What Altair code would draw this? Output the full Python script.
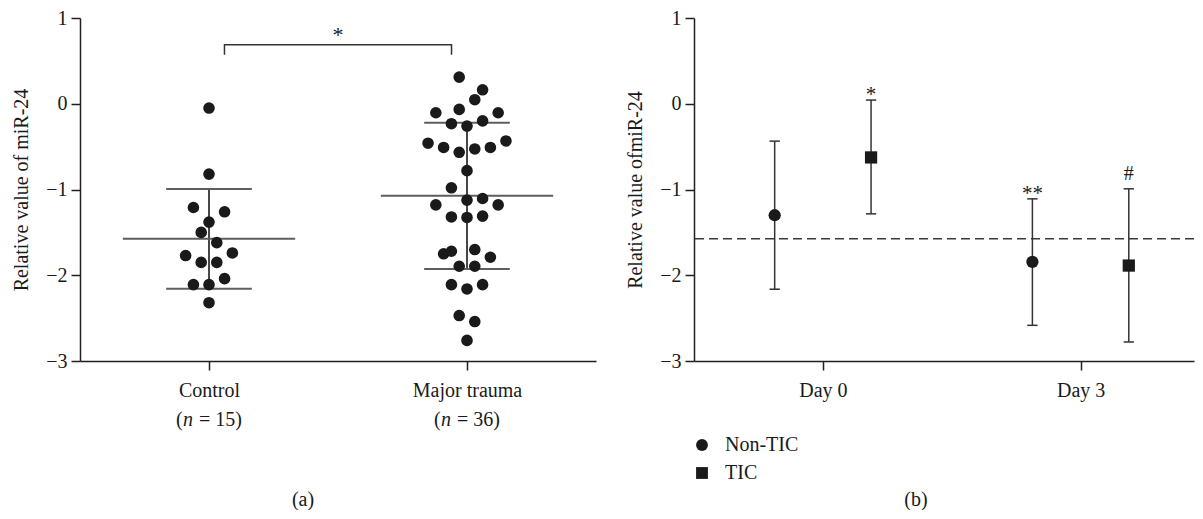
import altair as alt
import pandas as pd
import numpy as np

FONT = "Liberation Serif"
FS = 20
INK = "#1a1a1a"
GREY = "#5e5e5e"

# ---------------- Panel (a): individual values ----------------
control_values = [-0.05, -0.82, -1.21, -1.26, -1.38, -1.50, -1.62, -1.77, -1.74,
                  -1.85, -1.85, -2.04, -2.11, -2.11, -2.32]
control_slots = [0, 0, -2, 2, 0, -1, 1, -3, 3, -1, 1, 2, -2, 0, 0]

trauma_values = [0.31, 0.163, 0.047, -0.105, -0.066, -0.105, -0.233, -0.26, -0.20,
                 -0.46, -0.51, -0.566, -0.527, -0.51, -0.434, -0.78, -0.98, -1.18,
                 -1.124, -1.105, -1.18, -1.32, -1.326, -1.31, -1.75, -1.72, -1.70,
                 -1.79, -1.895, -1.895, -2.11, -2.16, -2.11, -2.47, -2.54, -2.76]
trauma_slots = [-1, 2, 1, -4, -1, 4, -2, 0, 2, -5, -3, -1, 1, 3, 5, 0, -2, -4,
                0, 2, 4, -2, 0, 2, -3, -2, 1, 3, -1, 1, -2, 0, 2, -1, 1, 0]

groups_a = ["Control", "Major trauma"]
group_pos_a = [1, 2]
n_labels = ["15", "36"]

# ---------------- Panel (b): mean and range ----------------
days = ["Day 0", "Day 0", "Day 3", "Day 3"]
day_pos = [1, 1, 2, 2]
cohort = ["Non-TIC", "TIC", "Non-TIC", "TIC"]
mean_b = [-1.30, -0.626, -1.844, -1.887]
upper_b = [-0.436, 0.043, -1.109, -0.992]
lower_b = [-2.163, -1.284, -2.584, -2.778]
marks_b = ["", "*", "**", "#"]

SLOT = 0.0302        # swarm step (in x units)
MEAN_HALF = 0.334    # half length of mean line
SD_HALF = 0.166      # half length of SD caps
COHORT_SHIFT = 0.187
CAP_B = 0.02

pts = pd.DataFrame({
    "group": ["Control"] * len(control_values) + ["Major trauma"] * len(trauma_values),
    "gpos": [1] * len(control_values) + [2] * len(trauma_values),
    "slot": control_slots + trauma_slots,
    "value": control_values + trauma_values,
})

xa_scale = alt.Scale(domain=[0.5, 2.5], nice=False, zero=False)
ya_scale = alt.Scale(domain=[-3, 1], nice=False, zero=False)
xa = alt.X("x:Q", scale=xa_scale,
           axis=alt.Axis(values=group_pos_a, title=None, grid=False,
                         labelExpr="datum.value == 1 ? 'Control' : 'Major trauma'",
                         tickSize=9, labelPadding=10, labelFontSize=FS))
ya = alt.Y("value:Q", scale=ya_scale,
           axis=alt.Axis(values=[-3, -2, -1, 0, 1], format="d",
                         title="Relative value of miR-24",
                         grid=False, tickSize=9, labelPadding=4, titlePadding=14,
                         labelFontSize=FS, titleFontSize=FS, titleFontWeight="normal"))

base_a = alt.Chart(pts)

points_a = base_a.transform_calculate(x=f"datum.gpos + datum.slot * {SLOT}").mark_circle(
    size=135, color=INK, opacity=1).encode(x=xa, y=ya)

stats = base_a.transform_aggregate(
    m="mean(value)", s="stdev(value)", groupby=["gpos"]
).transform_calculate(
    lo="datum.m - datum.s", hi="datum.m + datum.s",
    x="datum.gpos",
    mx1=f"datum.gpos - {MEAN_HALF}", mx2=f"datum.gpos + {MEAN_HALF}",
    sx1=f"datum.gpos - {SD_HALF}", sx2=f"datum.gpos + {SD_HALF}",
)

sd_line = stats.mark_rule(color=INK, strokeWidth=1.6).encode(
    x=alt.X("x:Q", scale=xa_scale), y=alt.Y("lo:Q", scale=ya_scale), y2="hi:Q")
mean_line = stats.mark_rule(color=GREY, strokeWidth=2).encode(
    x=alt.X("mx1:Q"), x2="mx2:Q", y=alt.Y("m:Q"))
cap_hi = stats.mark_rule(color=GREY, strokeWidth=2).encode(
    x=alt.X("sx1:Q"), x2="sx2:Q", y=alt.Y("hi:Q"))
cap_lo = stats.mark_rule(color=GREY, strokeWidth=2).encode(
    x=alt.X("sx1:Q"), x2="sx2:Q", y=alt.Y("lo:Q"))

BR_Y = 0.689
BR_DROP = 0.117
BR_INSET = 0.06
bracket = pd.DataFrame({
    "x": [1 + BR_INSET, 1 + BR_INSET, 2 - BR_INSET, 2 - BR_INSET],
    "value": [BR_Y - BR_DROP, BR_Y, BR_Y, BR_Y - BR_DROP],
    "o": [0, 1, 2, 3],
})
bracket_line = alt.Chart(bracket).mark_line(color="#333333", strokeWidth=1.5).encode(
    x="x:Q", y="value:Q", order="o:Q")
star_a = alt.Chart(pd.DataFrame({"x": [1.5], "value": [BR_Y], "t": ["*"]})).mark_text(
    font=FONT, fontSize=22, color=INK, baseline="alphabetic", dy=-3).encode(
    x="x:Q", y="value:Q", text="t:N")

nl = pd.DataFrame({"x": group_pos_a, "n": n_labels})
nl["rest"] = "= " + nl["n"] + ")"
n_open = alt.Chart(nl).mark_text(font=FONT, fontSize=FS, color=INK, align="left",
                                 baseline="middle", dx=-33).encode(
    x="x:Q", y=alt.value(402), text=alt.value("("))
n_ital = alt.Chart(nl).mark_text(font=FONT, fontSize=FS, color=INK, align="left",
                                 baseline="middle", dx=-26, fontStyle="italic").encode(
    x="x:Q", y=alt.value(402), text=alt.value("n"))
n_rest = alt.Chart(nl).mark_text(font=FONT, fontSize=FS, color=INK, align="left",
                                 baseline="middle", dx=-10).encode(
    x="x:Q", y=alt.value(402), text="rest:N")

tag_a = alt.Chart(pd.DataFrame({"t": ["(a)"]})).mark_text(
    font=FONT, fontSize=FS, color=INK, baseline="middle").encode(
    x=alt.value(223), y=alt.value(482), text="t:N")

panel_a = alt.layer(sd_line, mean_line, cap_hi, cap_lo, points_a, bracket_line, star_a,
                    n_open, n_ital, n_rest, tag_a).properties(width=516, height=343)

# ---------------- Panel (b) ----------------
dfb = pd.DataFrame({"day": days, "dpos": day_pos, "cohort": cohort, "mean": mean_b,
                    "upper": upper_b, "lower": lower_b, "mark": marks_b})
control_mean = float(np.mean(control_values))

xb_scale = alt.Scale(domain=[0.5, 2.44], nice=False, zero=False)
xb = alt.X("x:Q", scale=xb_scale,
           axis=alt.Axis(values=[1, 2], title=None, grid=False,
                         labelExpr="datum.value == 1 ? 'Day 0' : 'Day 3'",
                         tickSize=9, labelPadding=10, labelFontSize=FS))
yb_scale = alt.Scale(domain=[-3, 1], nice=False, zero=False)
yb = alt.Y("mean:Q", scale=yb_scale,
           axis=alt.Axis(values=[-3, -2, -1, 0, 1], format="d",
                         title="Relative value ofmiR-24",
                         grid=False, tickSize=9, labelPadding=4, titlePadding=14,
                         labelFontSize=FS, titleFontSize=FS, titleFontWeight="normal"))

base_b = alt.Chart(dfb).transform_calculate(
    x=f"datum.dpos + (datum.cohort == 'TIC' ? {COHORT_SHIFT} : -{COHORT_SHIFT})"
).transform_calculate(
    c1=f"datum.x - {CAP_B}", c2=f"datum.x + {CAP_B}")

ref_line = alt.Chart(pd.DataFrame({"v": [control_mean]})).mark_rule(
    color="#3a3a3a", strokeWidth=1.5, strokeDash=[9, 5]).encode(
    y=alt.Y("v:Q", scale=yb_scale))

bars_b = base_b.mark_rule(color="#333333", strokeWidth=1.5).encode(
    x=alt.X("x:Q", scale=xb_scale), y=alt.Y("lower:Q", scale=yb_scale), y2="upper:Q")
cap_up = base_b.mark_rule(color="#333333", strokeWidth=1.5).encode(
    x="c1:Q", x2="c2:Q", y="upper:Q")
cap_dn = base_b.mark_rule(color="#333333", strokeWidth=1.5).encode(
    x="c1:Q", x2="c2:Q", y="lower:Q")

points_b = base_b.mark_point(filled=True, size=150, opacity=1, color=INK).encode(
    x=xb, y=yb,
    shape=alt.Shape("cohort:N",
                    scale=alt.Scale(domain=["Non-TIC", "TIC"], range=["circle", "square"]),
                    legend=alt.Legend(orient="none", legendX=612, legendY=417, title=None,
                                      labelFont=FONT, labelFontSize=FS, labelColor=INK,
                                      symbolSize=140, symbolFillColor=INK,
                                      symbolStrokeColor=INK, rowPadding=8,
                                      labelOffset=13)))

star_b = base_b.transform_filter("datum.mark == '*' || datum.mark == '**'").mark_text(
    font=FONT, fontSize=21, color=INK, baseline="alphabetic", dy=1).encode(
    x="x:Q", y="upper:Q", text="mark:N")
hash_b = base_b.transform_filter("datum.mark == '#'").mark_text(
    font=FONT, fontSize=FS, color=INK, baseline="alphabetic", dy=-9).encode(
    x="x:Q", y="upper:Q", text="mark:N")

tag_b = alt.Chart(pd.DataFrame({"t": ["(b)"]})).mark_text(
    font=FONT, fontSize=FS, color=INK, baseline="middle").encode(
    x=alt.value(222), y=alt.value(482), text="t:N")

panel_b = alt.layer(ref_line, bars_b, cap_up, cap_dn, points_b, star_b, hash_b,
                    tag_b).properties(width=500, height=343)

chart = alt.hconcat(panel_a, panel_b, spacing=98, bounds="flush").properties(
    padding={"left": 3, "top": 0, "right": 0, "bottom": 0},
).configure_view(stroke=None).configure_axis(
    labelFont=FONT, titleFont=FONT, labelColor=INK, titleColor=INK,
    domainColor="#231f20", tickColor="#231f20", domainWidth=1.5, tickWidth=1.5,
).configure_legend(labelFont=FONT)

chart.save("out.html", embed_options={"renderer": "svg", "actions": False})
